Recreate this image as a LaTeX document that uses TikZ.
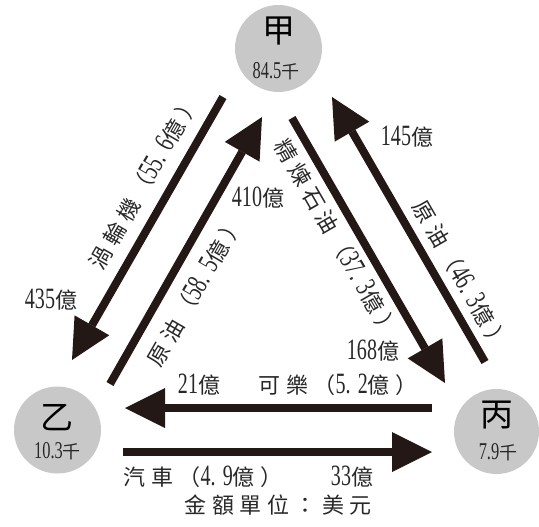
\documentclass[tikz,border=0pt]{standalone}
\usepackage{fontspec}
\setmainfont{Noto Sans CJK TC}[LetterSpace=25]
\newfontfamily\dgfont{Liberation Serif}[FakeStretch=0.68,Scale=1.34]
\newcommand\dg[1]{{\dgfont #1}}
\newcommand\dotgap{{\dgfont .}\hspace{7pt}}
\usetikzlibrary{arrows.meta}
\definecolor{arrowc}{RGB}{35,24,21}
\definecolor{circlec}{RGB}{200,200,200}
\definecolor{textc}{RGB}{40,40,40}
\tikzset{
  flow/.style={draw=arrowc, line width=8pt,
    -{Triangle[length=40pt,width=40pt,line width=0pt]}},
  country/.style={circle, fill=circlec, minimum size=87pt, inner sep=0pt},
  bigname/.style={font=\fontsize{33}{33}\selectfont, text=black},
  small/.style={font=\fontsize{18}{18}\selectfont, text=textc},
  lbl/.style={font=\fontsize{22}{22}\selectfont, text=textc, inner sep=0pt},
}
\begin{document}
\begin{tikzpicture}[x=1pt,y=-1pt]
\useasboundingbox (0,0) rectangle (539,527);
% countries
\node[country] (jia) at (278.5,48.5) {};
\node[country] (yi) at (57.5,430) {};
\node[country, minimum size=85pt] (bing) at (496.5,431.5) {};
\node[bigname] (jian) at (278.5,31) {甲};
\node[small] (jiav) at (276,71) {\dg{84.5}千};
\node[bigname] (yin) at (57.5,418) {乙};
\node[small] (yiv) at (57.5,451) {\dg{10.3}千};
\node[bigname] (bingn) at (497,415) {丙};
\node[small] (bingv) at (498,452) {\dg{7.9}千};
% arrow end points
\coordinate (a1s) at (223,97);
\coordinate (a1e) at (72,360);
\coordinate (a2s) at (110,384);
\coordinate (a2e) at (262,117);
\coordinate (a3s) at (292,118);
\coordinate (a3e) at (445,383);
\coordinate (a4s) at (485,362);
\coordinate (a4e) at (332,97);
\coordinate (a5s) at (432,408);
\coordinate (a5e) at (125,408);
\coordinate (a6s) at (123,452);
\coordinate (a6e) at (432,452);
\draw[flow] (a1s) -- (a1e);
\draw[flow] (a2s) -- (a2e);
\draw[flow] (a3s) -- (a3e);
\draw[flow] (a4s) -- (a4e);
\draw[flow] (a5s) -- (a5e);
\draw[flow] (a6s) -- (a6e);
% labels
\node[lbl, rotate=60] (l1) at (144,182) {渦輪機（\dg{55}\dotgap\dg{6}億）};
\node[lbl] (v1) at (51,300) {\dg{435}億};
\node[lbl, rotate=60] (l2) at (195,291) {原油（\dg{58}\dotgap\dg{5}億）};
\node[lbl] (v2) at (258,198) {\dg{410}億};
\node[lbl, rotate=-60] (l3) at (337,238) {精煉石油（\dg{37}\dotgap\dg{3}億）};
\node[lbl] (v3) at (373,351) {\dg{168}億};
\node[lbl, rotate=-60] (l4) at (461,275) {原油（\dg{46}\dotgap\dg{3}億）};
\node[lbl] (v4) at (407,137) {\dg{145}億};
\node[lbl] (v5) at (199,385) {\dg{21}億};
\node[lbl] (l5) at (338,385) {可樂（\dg{5}\dotgap\dg{2}億）};
\node[lbl] (l6) at (203,477) {汽車（\dg{4}\dotgap\dg{9}億）};
\node[lbl] (v6) at (352,477) {\dg{33}億};
\node[lbl] (unit) at (278,505) {金額單位：美元};
\end{tikzpicture}
\end{document}
